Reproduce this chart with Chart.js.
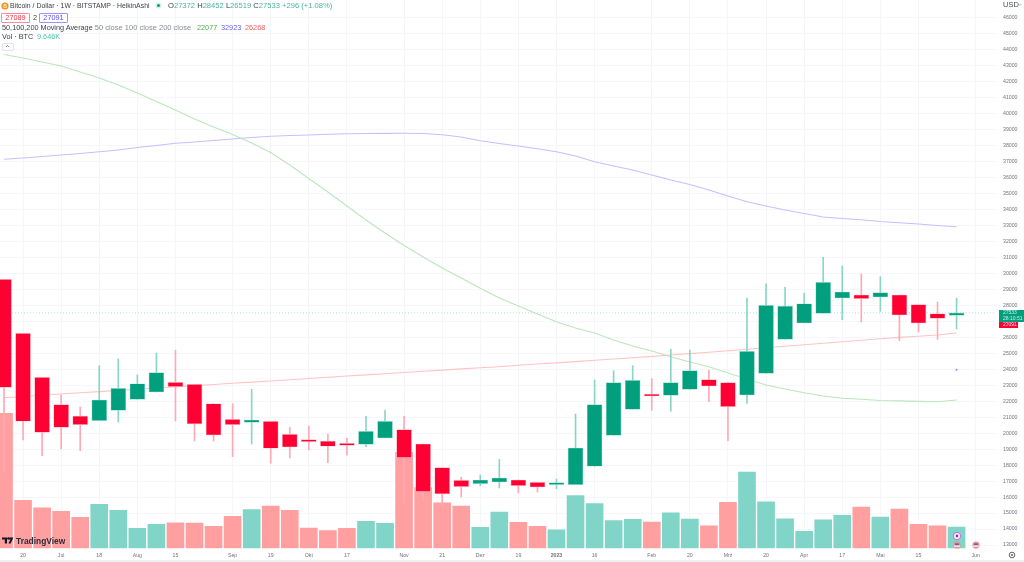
<!DOCTYPE html>
<html>
<head>
<meta charset="utf-8">
<script src="https://cdn.jsdelivr.net/npm/chart.js@4"></script>
<style>
    html, body { margin: 0; padding: 0; background: #fff; }
    #wrap { position: relative; width: 1024px; height: 562px; overflow: hidden; font-family: "Liberation Sans", sans-serif; color: #131722; }
    #wrap canvas { position: absolute; left: 0; top: 0; }
    .t { position: absolute; font-size: 7.3px; line-height: 9px; white-space: nowrap; }
    .g { color: #089981; opacity: .75; }
    .box { position: absolute; height: 8px; line-height: 8px; border-radius: 1px; text-align: center; font-size: 7.3px; }
    svg { position: absolute; }
</style>
</head>
<body>
<div id="wrap">
    <canvas id="chart" width="1024" height="562"></canvas>

    <svg style="left:1px;top:2px" width="8" height="8"><circle cx="4" cy="4" r="3.6" fill="#f7931a"/><text x="4" y="6" font-size="5.5" fill="#fff" text-anchor="middle">B</text></svg>
    <div class="t" style="left:10px;top:1px;font-size:6.9px;color:#3a3e4a">Bitcoin / Dollar · 1W · BITSTAMP · HeikinAshi</div>
    <svg style="left:155px;top:2px" width="7" height="7"><circle cx="3.5" cy="3.5" r="3" fill="#d5f0ea"/><circle cx="3.5" cy="3.5" r="1.5" fill="#089981"/></svg>
    <div class="t" style="left:168px;top:1px;font-size:7.6px;color:#3a3e4a">O<span class="g">27372</span> H<span class="g">28452</span> L<span class="g">26519</span> C<span class="g">27533 +296 (+1.08%)</span></div>

    <div class="box" style="left:1px;top:13px;width:27px;border:1px solid #ff8a9f;color:#f23645">27089</div>
    <div class="t" style="left:33px;top:13px;color:#3a3e4a">2</div>
    <div class="box" style="left:39px;top:13px;width:27px;border:1px solid #9b93ff;color:#5b4ff0">27091</div>

    <div class="t" style="left:2px;top:23px;color:#3a3e4a">50,100,200 Moving Average <span style="color:#888c96;font-size:7.5px">50 close 100 close 200 close</span></div>
    <div class="t" style="left:197px;top:23px;color:#4caf50">22077</div>
    <div class="t" style="left:221px;top:23px;color:#6a5cf5">32923</div>
    <div class="t" style="left:245px;top:23px;color:#f25c5c">26268</div>

    <div class="t" style="left:2px;top:32px;color:#3a3e4a">Vol · BTC</div>
    <div class="t" style="left:37px;top:32px;color:#4cc3b0">9.646K</div>

    <div style="position:absolute;left:2px;top:43px;width:10px;height:6px;border:1px solid #e0e3eb;border-radius:1px"></div>
    <svg style="left:5px;top:44px" width="5" height="5"><path d="M1 3 L2.5 1.5 L4 3" stroke="#555" stroke-width=".7" fill="none"/></svg>

    <div class="t" style="left:1003px;top:0px;font-size:7.5px;color:#4a4e58">USD</div>
    <svg style="left:1018px;top:3px" width="5" height="4"><path d="M.5 1 L2 2.5 L3.5 1" stroke="#888" stroke-width=".6" fill="none"/></svg>

    <svg style="left:2px;top:537px" width="12" height="8"><path d="M0 .5 H5 V6.5 H2.8 V2.6 H0 Z M6 .5 H11.5 L8.6 6.5 H6.4 L8.5 2.6 H6 Z" fill="#131722"/><circle cx="6" cy="1.5" r="1" fill="#131722"/></svg>
    <div class="t" style="left:16px;top:536px;font-size:8.4px;line-height:10px;font-weight:bold;color:#2a2e39">TradingView</div>

    <svg style="left:952px;top:531px" width="30" height="20">
        <circle cx="5" cy="5" r="3.6" fill="#fff" stroke="#c267e0" stroke-width="1"/><circle cx="5" cy="5" r="1.4" fill="#9c27b0"/>
        <circle cx="5" cy="14" r="3.6" fill="#ff8a8a"/><rect x="3" y="12.4" width="4" height="1.6" fill="#3f6fd0"/><rect x="2" y="14.6" width="6" height="1.1" fill="#fff"/>
        <circle cx="24" cy="14" r="3.6" fill="#ff8a8a"/><rect x="22" y="12.4" width="4" height="1.6" fill="#3f6fd0"/><rect x="21" y="14.6" width="6" height="1.1" fill="#fff"/>
    </svg>
    <svg style="left:1008px;top:551px" width="8" height="8"><circle cx="4" cy="4" r="2.8" fill="none" stroke="#50535e" stroke-width=".9"/><circle cx="4" cy="4" r=".9" fill="#50535e"/></svg>
    <div style="position:absolute;left:0;top:560px;width:1024px;height:2px;background:#eef0f6"></div>
</div>

<script>
// Weekly Heikin Ashi candles, Jun 2022 - May 2023
const opens = [29633, 26252, 23498, 21783, 21075, 20781, 21432, 22121, 22578, 23185, 23060, 21845, 20869, 20681, 20744, 19930, 19554,
    19510, 19341, 19304, 19698, 20218, 19323, 17839, 17050, 16837, 16944, 17069, 16925, 16775, 16775, 17927, 19867, 21495,
    22434, 22371, 22747, 23348, 23160, 22390, 23748, 25877, 26897, 27504, 28462, 28650, 28525, 28650, 28043, 27479, 27372];
const closes = [22872, 20744, 20055, 20368, 20531, 22077, 22809, 23097, 23786, 22910, 20575, 19886, 20531, 20825, 19054, 19135, 19467,
    19179, 19241, 20118, 20744, 18465, 16337, 16193, 16650, 17069, 17194, 16712, 16631, 16862, 19072, 21783, 23160, 23310,
    22327, 23160, 23911, 22953, 21658, 25126, 28005, 27961, 28105, 29445, 28838, 28418, 28794, 27398, 26897, 27191, 27533];
const highs = [29633, 26252, 23498, 22390, 21639, 24224, 24644, 23642, 25019, 25188, 23060, 21845, 21845, 22747, 20744, 20368, 20449,
    19949, 19698, 21057, 21451, 21057, 19323, 17839, 17238, 17382, 18365, 17069, 16925, 17132, 21201, 23329, 23911, 24224,
    23410, 25251, 25207, 23955, 23160, 28462, 29357, 29132, 28756, 31010, 30465, 29965, 29796, 28650, 28043, 28212, 28452];
const lows = [17589, 19573, 18590, 19010, 18903, 20781, 20700, 22121, 22578, 20762, 19510, 19510, 18528, 19323, 18114, 18446, 18947,
    18152, 18634, 19154, 19698, 15610, 15773, 15460, 16005, 16712, 16568, 16255, 16318, 16524, 16775, 17927, 19867, 21495,
    21432, 21370, 22747, 21971, 19529, 21870, 23748, 25877, 26897, 27504, 27104, 26960, 27630, 25789, 26334, 25877, 26519];
// volume in thousand BTC
const volumes = [57.3, 20.8, 17.7, 16.2, 13.7, 19.1, 16.6, 9.1, 10.8, 11.4, 11.3, 9.9, 14.1, 16.9, 18.4, 16.6, 9.2,
    8.1, 9.1, 12.0, 11.2, 40.9, 26.1, 19.8, 18.4, 9.5, 15.9, 11.6, 9.9, 8.5, 22.8, 19.4, 12.3, 12.9,
    11.7, 15.6, 13.0, 10.1, 20.0, 32.6, 20.2, 13.1, 7.8, 12.6, 14.5, 18.0, 13.8, 17.1, 10.8, 10.1, 9.646];
const ma50 = [43705, 43486, 43236, 42985, 42610, 42234, 41796, 41295, 40763, 40231, 39668, 39167, 38697, 38165, 37571, 36788, 35943,
    35098, 34221, 33345, 32531, 31749, 31029, 30340, 29714, 29069, 28462, 27961, 27461, 26979, 26584, 26271, 25833, 25457,
    25144, 24788, 24456, 24162, 23767, 23392, 23016, 22766, 22534, 22327, 22183, 22121, 22050, 22020, 21990, 21970, 22077];
const ma100 = [37145, 37226, 37320, 37414, 37508, 37621, 37727, 37884, 38009, 38146, 38228, 38322, 38416, 38510, 38585, 38635, 38666,
    38710, 38747, 38760, 38766, 38772, 38760, 38679, 38541, 38309, 38134, 37977, 37808, 37621, 37351, 36995, 36725, 36475,
    36162, 35849, 35567, 35223, 34847, 34491, 34221, 33971, 33752, 33533, 33439, 33364, 33251, 33176, 33095, 33001, 32923];
const ma200 = [22221, 22296, 22371, 22453, 22528, 22603, 22678, 22753, 22828, 22903, 22978, 23047, 23122, 23198, 23266, 23342, 23423,
    23498, 23579, 23648, 23723, 23799, 23874, 23949, 24024, 24093, 24162, 24249, 24331, 24399, 24481, 24562, 24644, 24725,
    24806, 24894, 24982, 25069, 25163, 25251, 25351, 25445, 25539, 25633, 25727, 25820, 25914, 25996, 26071, 26146, 26268];
const strayDot = [{ x: 50, y: 23974 }];

const tickIndexes = [1, 3, 5, 7, 9, 12, 14, 16, 18, 21, 23, 25, 27, 29, 31, 34, 36, 38, 40, 42, 44, 46, 48, 51];
const tickLabels = ['20', 'Jul', '18', 'Aug', '15', 'Sep', '19', 'Okt', '17', 'Nov', '21', 'Dez', '19', '2023', '16', 'Feb', '20', 'Mrz', '20', 'Apr', '17', 'Mai', '15', 'Jun'];
const priceTicks = [13000, 14000, 15000, 16000, 17000, 18000, 19000, 20000, 21000, 22000, 23000, 24000, 25000, 26000, 27000, 28000, 29000,
    30000, 31000, 32000, 33000, 34000, 35000, 36000, 37000, 38000, 39000, 40000, 41000, 42000, 43000, 44000, 45000, 46000];
const lastClose = closes[closes.length - 1];
const otherTag = 27091;
const tagTimer = '28:10:51';

const X_MIN = -0.21;
const X_MAX = 52.07;

const UP = '#019f7d', UP_EDGE = '#9fded0', UP_WICK = '#8ad6c5', UP_VOL = '#80d4c8';
const DOWN = '#ff0033', DOWN_EDGE = '#ffb3c0', DOWN_WICK = '#ffa8b6', DOWN_VOL = '#ff9fa0';

const isUp = i => closes[i] >= opens[i];
const pick = (a, b) => opens.map((_, i) => (isUp(i) ? a : b));
const series = arr => arr.map((y, x) => ({ x, y }));

const priceTags = {
    id: 'priceTags',
    afterDraw(chart) {
        const { ctx, scales: { y } } = chart;
        const py = Math.round(y.getPixelForValue(lastClose));
        ctx.save();
        ctx.textBaseline = 'middle';
        ctx.fillStyle = '#019f7d';
        ctx.fillRect(999, py - 3, 25, 12);
        ctx.fillStyle = '#ff0033';
        ctx.fillRect(999, py + 9, 19, 6);
        ctx.font = '5px "Liberation Sans"';
        ctx.fillStyle = '#c5efe6';
        ctx.fillText(String(lastClose), 1003, py);
        ctx.fillText(tagTimer, 1003, py + 6);
        ctx.fillStyle = '#ffe0e6';
        ctx.fillText(String(otherTag), 1003, py + 12);
        ctx.restore();
    }
};

new Chart(document.getElementById('chart'), {
    type: 'bar',
    plugins: [priceTags],
    data: {
        datasets: [
            {
                label: 'Volume', yAxisID: 'vol', order: 5, grouped: false,
                data: series(volumes), barThickness: 19,
                backgroundColor: pick(UP_VOL, DOWN_VOL),
                borderColor: 'rgba(255,255,255,0.65)', borderWidth: 1, borderSkipped: false
            },
            { type: 'line', label: 'MA 50', order: 4, data: series(ma50), borderColor: '#bce6bc', borderWidth: 1.1, pointRadius: 0 },
            { type: 'line', label: 'MA 100', order: 4, data: series(ma100), borderColor: '#c6bfff', borderWidth: 1.1, pointRadius: 0 },
            { type: 'line', label: 'MA 200', order: 4, data: series(ma200), borderColor: '#ffc4c4', borderWidth: 1.1, pointRadius: 0 },
            { type: 'line', label: 'Dot', order: 4, data: strayDot, pointRadius: 1, pointBackgroundColor: '#8d84ff', pointBorderWidth: 0, showLine: false },
            {
                type: 'line', label: 'Last', order: 4,
                data: [{ x: X_MIN, y: lastClose }, { x: X_MAX, y: lastClose }],
                borderColor: '#b5e6dc', borderWidth: 1, borderDash: [1, 2], pointRadius: 0
            },
            {
                label: 'Wicks', order: 3, grouped: false,
                data: lows.map((l, i) => ({ x: i, y: [l, highs[i]] })), barThickness: 1,
                backgroundColor: pick(UP_WICK, DOWN_WICK), borderWidth: 0
            },
            {
                label: 'Bodies', order: 2, grouped: false,
                data: opens.map((o, i) => ({ x: i, y: [o, closes[i]] })), barThickness: 15, minBarLength: 2,
                backgroundColor: pick(UP, DOWN), borderColor: pick(UP_EDGE, DOWN_EDGE),
                borderWidth: 0.7, borderSkipped: false
            }
        ]
    },
    options: {
        responsive: false,
        animation: false,
        layout: { autoPadding: false, padding: 0 },
        plugins: { legend: { display: false }, tooltip: { enabled: false } },
        scales: {
            x: {
                type: 'linear',
                offset: false,
                min: X_MIN,
                max: X_MAX,
                border: { display: false },
                grid: { color: '#f5f6f9', drawTicks: false, offset: false },
                afterBuildTicks: axis => { axis.ticks = tickIndexes.map(value => ({ value })); },
                afterFit: axis => { axis.height = 12; axis.paddingLeft = 0; axis.paddingRight = 0; },
                ticks: {
                    autoSkip: false,
                    maxRotation: 0,
                    padding: 2,
                    color: '#6f737e',
                    font: ctx => ({ family: 'Liberation Sans', size: 5.2, weight: ctx.tick && ctx.tick.value === 29 ? 'bold' : 'normal' }),
                    callback: value => tickLabels[tickIndexes.indexOf(value)]
                }
            },
            y: {
                position: 'right',
                min: 12687,
                max: 47117,
                border: { display: false },
                grid: { color: '#f6f7fa', drawTicks: false },
                afterBuildTicks: axis => { axis.ticks = priceTicks.map(value => ({ value })); },
                afterFit: axis => { axis.width = 28; axis.paddingTop = 0; axis.paddingBottom = 0; },
                // scale bounds are overwritten from the tick list, put them back
                afterDataLimits: axis => { axis.min = 12687; axis.max = 47117; },
                ticks: {
                    autoSkip: false,
                    padding: 7,
                    color: '#6f737e',
                    font: { family: 'Liberation Sans', size: 5.2 },
                    callback: value => String(value)
                }
            },
            vol: { display: false, min: -0.419, max: 230 }
        }
    }
});
</script>
</body>
</html>
